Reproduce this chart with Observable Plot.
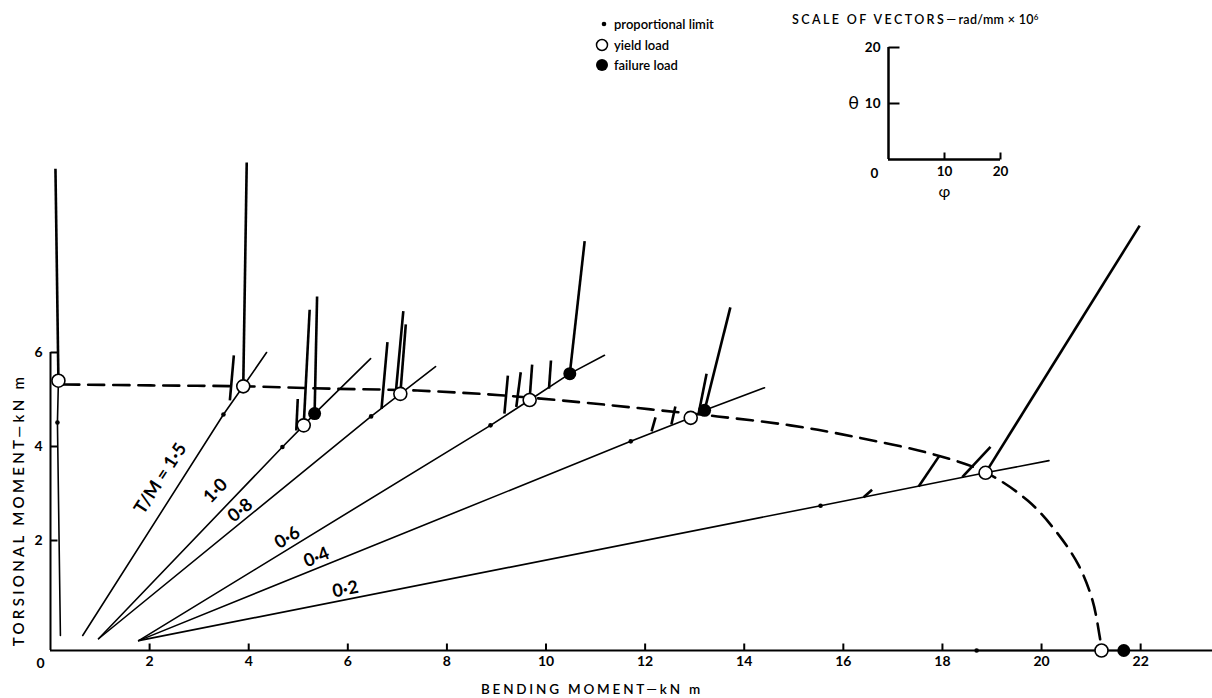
<!DOCTYPE html>
<html><head><meta charset="utf-8">
<script src="https://cdn.jsdelivr.net/npm/d3@7"></script>
<script src="https://cdn.jsdelivr.net/npm/@observablehq/plot@0.6"></script>
<style>
html,body{margin:0;padding:0;background:#fff;}
#wrap{position:relative;width:1212px;height:698px;overflow:hidden;font-family:Lato,"Open Sans",sans-serif;color:#000;}
.abs{position:absolute;white-space:nowrap;}
#legend div{height:20.5px;line-height:20.5px;font-size:13px;font-weight:600;display:flex;align-items:center;}
#legend svg{width:22px;height:20px;margin-right:1px;}
</style></head>
<body><div id="wrap">
<div id="main" class="abs" style="left:0;top:0"></div>
<div id="inset" class="abs" style="left:850px;top:30px"></div>
<div id="scaleTitle" class="abs" style="left:792px;top:9px;font-size:12.5px;font-weight:600;letter-spacing:2.4px;line-height:16px">SCALE OF VECTORS—<span style="letter-spacing:0.3px;font-size:12.5px">rad/mm × 10<span style="font-size:8px;vertical-align:4px">6</span></span></div>
<div id="legend" class="abs" style="left:591px;top:14px"></div>
<div id="xTitle" class="abs" style="left:592px;top:681px;transform:translateX(-50%);font-size:13.5px;font-weight:600;letter-spacing:2.8px;line-height:16px">BENDING MOMENT—kN m</div>
<div id="yTitle" class="abs" style="left:18px;top:510px;transform:translate(-50%,-50%) rotate(-90deg);font-size:15px;font-weight:600;letter-spacing:3.3px;line-height:16px">TORSIONAL MOMENT—kN m</div>
</div>
<script>
// ---------- data (kN m) ----------
const seriesNames = ["inf", "1.5", "1.0", "0.8", "0.6", "0.4", "0.2", "0"];
const labelTexts  = [null, "T/M = 1·5", "1·0", "0·8", "0·6", "0·4", "0·2", null];
const labelX      = [null, 2.22, 3.33, 3.83, 4.78, 5.37, 5.95, null];
const labelY      = [null, 3.32, 3.06, 2.64, 2.06, 1.64, 0.96, null];

const startX = [0.20, 0.65, 0.97, 0.97, 1.78, 1.78, 1.78, null];
const startY = [-0.02, -0.02, -0.09, -0.09, -0.13, -0.13, -0.13, null];
const propX  = [0.14, 3.49, 4.68, 6.47, 8.88, 11.71, 15.54, 18.69];
const propY  = [4.51, 4.68, 3.99, 4.64, 4.45, 4.11, 2.74, -0.34];
const yieldX = [0.16, 3.89, 5.11, 7.06, 9.67, 12.92, 18.87, 21.21];
const yieldY = [5.40, 5.28, 4.45, 5.12, 4.99, 4.61, 3.44, -0.34];
const failX  = [null, null, 5.33, null, 10.48, 13.20, null, 21.66];
const failY  = [null, null, 4.70, null, 5.55, 4.77, null, -0.34];
const endX   = [null, 4.36, 6.46, 7.77, 11.18, 14.41, 20.15, null];
const endY   = [null, 6.00, 5.87, 5.70, 5.94, 5.25, 3.70, null];

// rotation vectors: base (x1,y1) on load path, tip (x2,y2)
const vecX1 = [0.16, 3.62, 3.89, 4.96, 5.11, 5.33, 6.68, 6.96, 7.06, 9.16, 9.40, 9.67, 10.06, 10.48, 12.13, 12.53, 13.08, 13.20, 16.41, 17.52, 18.40, 18.87];
const vecY1 = [5.40, 4.98, 5.28, 4.34, 4.45, 4.70, 4.80, 5.05, 5.12, 4.70, 4.84, 5.02, 5.23, 5.55, 4.32, 4.47, 4.70, 4.77, 2.92, 3.15, 3.35, 3.44];
const vecX2 = [0.10, 3.70, 3.96, 4.99, 5.23, 5.38, 6.80, 7.12, 7.17, 9.23, 9.49, 9.72, 10.10, 10.78, 12.21, 12.61, 13.24, 13.72, 16.58, 17.93, 18.97, 21.98];
const vecY2 = [9.91, 5.94, 10.04, 5.01, 6.91, 7.19, 6.22, 6.88, 6.60, 5.51, 5.58, 5.74, 5.83, 8.37, 4.62, 4.85, 5.55, 6.96, 3.08, 3.79, 3.99, 8.70];

// yield locus (dashed)
const locusX = [0.26, 2.02, 3.89, 5.65, 7.40, 9.08, 10.70, 12.11, 13.46, 14.93, 16.21, 17.90, 18.87, 19.72, 20.28, 20.75, 21.03, 21.17, 21.21];
const locusY = [5.32, 5.30, 5.28, 5.23, 5.19, 5.09, 4.94, 4.79, 4.64, 4.45, 4.21, 3.81, 3.45, 2.85, 2.21, 1.47, 0.72, -0.02, -0.30];

const xTicks = [2, 4, 6, 8, 10, 12, 14, 16, 18, 20, 22];
const yTicks = [2, 4, 6];
const insetTicks = [10, 20];
const legendItems = ["proportional limit", "yield load", "failure load"];

// ---------- layout ----------
const W = 1212, H = 698, mL = 50, mR = 0, mT = 140, mB = 48;
const xDomain = [0, 23.45], yDomain = [-0.34, 10.51];
const kx = (W - mL - mR) / (xDomain[1] - xDomain[0]);
const ky = (H - mT - mB) / (yDomain[1] - yDomain[0]);
const TICK = 7;
const FONT = "Lato, 'Open Sans', sans-serif";

// ---------- tables ----------
const pathRows = [], propRows = [], yieldRows = [], failRows = [], labelRows = [];
seriesNames.forEach((s, i) => {
  const pts = [[startX[i], startY[i]], [propX[i], propY[i]], [yieldX[i], yieldY[i]], [failX[i], failY[i]], [endX[i], endY[i]]]
    .filter(p => p[0] != null);
  pts.forEach(p => pathRows.push({series: s, x: p[0], y: p[1]}));
  propRows.push({x: propX[i], y: propY[i]});
  yieldRows.push({x: yieldX[i], y: yieldY[i]});
  if (failX[i] != null) failRows.push({x: failX[i], y: failY[i]});
  if (labelTexts[i]) {
    const ang = Math.atan2((endY[i] - startY[i]) * ky, (endX[i] - startX[i]) * kx) * 180 / Math.PI;
    labelRows.push({x: labelX[i], y: labelY[i], text: labelTexts[i], rot: -ang});
  }
});
const vecRows = vecX1.map((_, i) => ({x1: vecX1[i], y1: vecY1[i], x2: vecX2[i], y2: vecY2[i]}));
const locusRows = locusX.map((x, i) => ({x, y: locusY[i]}));

const main = Plot.plot({
  width: W, height: H, marginLeft: mL, marginRight: mR, marginTop: mT, marginBottom: mB,
  style: {background: "white", fontFamily: FONT, color: "black", overflow: "visible"},
  x: {domain: xDomain}, y: {domain: yDomain},
  marks: [
    Plot.ruleY([yDomain[0]], {x1: 0, x2: xDomain[1], stroke: "black", strokeWidth: 2.2}),
    Plot.ruleX([0], {y1: yDomain[0], y2: d3.max(yTicks), stroke: "black", strokeWidth: 2}),
    // inward ticks
    Plot.link(xTicks, {x1: d => d, x2: d => d, y1: yDomain[0], y2: yDomain[0] + TICK / ky, stroke: "black", strokeWidth: 2}),
    Plot.link(yTicks, {y1: d => d, y2: d => d, x1: 0, x2: TICK / kx, stroke: "black", strokeWidth: 2}),
    Plot.axisX({ticks: xTicks, anchor: "bottom", tickSize: 0, tickPadding: 6, fontSize: 14, fontWeight: "bold", tickFormat: d => String(d), label: null}),
    Plot.axisY({ticks: yTicks, anchor: "left", tickSize: 0, tickPadding: 8, fontSize: 14, fontWeight: "bold", tickFormat: d => String(d), label: null}),
    Plot.text(["0"], {x: 0, y: yDomain[0], dx: -10, dy: 13, fontSize: 14, fontWeight: "bold"}),
    Plot.line(pathRows, {x: "x", y: "y", z: "series", stroke: "black", strokeWidth: 1.6}),
    Plot.line(locusRows, {x: "x", y: "y", curve: "catmull-rom", stroke: "black", strokeWidth: 2.6, strokeDasharray: "16,9"}),
    Plot.link(vecRows, {x1: "x1", y1: "y1", x2: "x2", y2: "y2", stroke: "black", strokeWidth: 2.6}),
    Plot.dot(propRows, {x: "x", y: "y", r: 2.3, fill: "black"}),
    Plot.dot(yieldRows, {x: "x", y: "y", r: 6.5, fill: "white", stroke: "black", strokeWidth: 1.6}),
    Plot.dot(failRows, {x: "x", y: "y", r: 6.5, fill: "black"}),
    Plot.text(labelRows, {x: "x", y: "y", text: "text", rotate: "rot", lineAnchor: "middle", textAnchor: "middle", fontSize: 18, fontWeight: "bold"})
  ]
});
document.getElementById("main").appendChild(main);

const IW = 180, IH = 175, iL = 38, iR = 30, iT = 17, iB = 46;
const insetDomain = [0, 20];
const ikx = (IW - iL - iR) / (insetDomain[1] - insetDomain[0]);
const iky = (IH - iT - iB) / (insetDomain[1] - insetDomain[0]);
const inset = Plot.plot({
  width: IW, height: IH, marginLeft: iL, marginRight: iR, marginTop: iT, marginBottom: iB,
  style: {background: "transparent", fontFamily: FONT, color: "black", overflow: "visible"},
  x: {domain: insetDomain}, y: {domain: insetDomain},
  marks: [
    Plot.ruleX([0], {y1: 0, y2: d3.max(insetTicks), stroke: "black", strokeWidth: 2.5}),
    Plot.ruleY([0], {x1: 0, x2: d3.max(insetTicks), stroke: "black", strokeWidth: 2.5}),
    Plot.link(insetTicks, {y1: d => d, y2: d => d, x1: 0, x2: 11 / ikx, stroke: "black", strokeWidth: 2}),
    Plot.link(insetTicks, {x1: d => d, x2: d => d, y1: 0, y2: TICK / iky, stroke: "black", strokeWidth: 2}),
    Plot.axisY({ticks: insetTicks, anchor: "left", tickSize: 0, tickPadding: 8, fontSize: 13.5, fontWeight: "bold", tickFormat: d => String(d), label: null}),
    Plot.axisX({ticks: insetTicks, anchor: "bottom", tickSize: 0, tickPadding: 7, fontSize: 13.5, fontWeight: "bold", tickFormat: d => String(d), label: null}),
    Plot.text(["0"], {x: 0, y: 0, dx: -14, dy: 14, fontSize: 13.5, fontWeight: "bold"}),
    Plot.text(["θ"], {x: 0, y: 10, dx: -35, fontSize: 18}),
    Plot.text(["φ"], {x: 10, y: 0, dy: 32, fontSize: 16})
  ]
});
document.getElementById("inset").appendChild(inset);

// legend
const legend = d3.select("#legend");
const sym = [
  g => g.append("circle").attr("cx", 13).attr("cy", 10).attr("r", 2.3).attr("fill", "black"),
  g => g.append("circle").attr("cx", 11).attr("cy", 10).attr("r", 5.5).attr("fill", "white").attr("stroke", "black").attr("stroke-width", 1.5),
  g => g.append("circle").attr("cx", 11).attr("cy", 10).attr("r", 6).attr("fill", "black")
];
legendItems.forEach((t, i) => {
  const row = legend.append("div");
  sym[i](row.append("svg"));
  row.append("span").text(t);
});
</script>
</body></html>
